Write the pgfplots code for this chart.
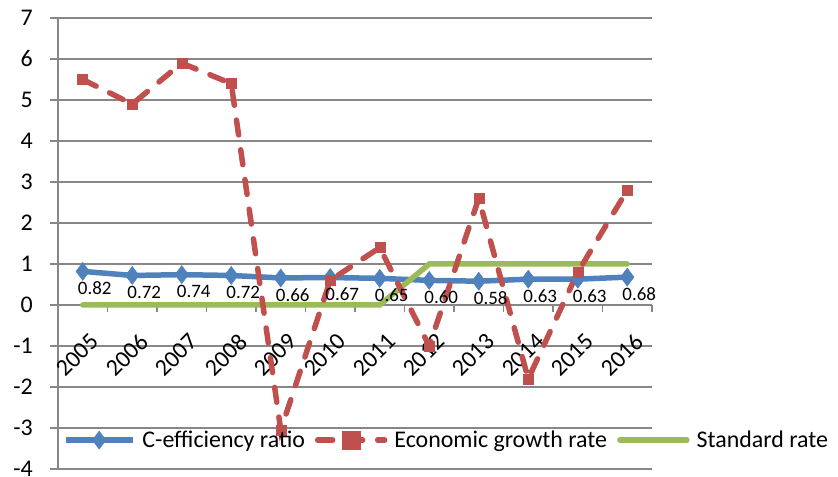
\documentclass[border=0pt]{standalone}
\usepackage{fontspec}
\setmainfont{Carlito}
\usepackage{pgfplots}
\pgfplotsset{compat=1.18}
\usetikzlibrary{calc}
\definecolor{cblue}{HTML}{4F81BD}
\definecolor{cred}{HTML}{C0504D}
\definecolor{cgreen}{HTML}{9BBB59}
\definecolor{cgrid}{HTML}{878787}

\begin{document}
\begin{tikzpicture}
\begin{axis}[
  name=ax,
  scale only axis, width=594bp, height=451bp,
  xmin=-0.5, xmax=11.5, ymin=-4, ymax=7,
  axis y line*=left, axis x line*=middle,
  axis line style={cgrid, line width=2bp, -},
  ytick={-4,...,7},
  xtick={0,...,11},
  xticklabels={2005,2006,2007,2008,2009,2010,2011,2012,2013,2014,2015,2016},
  minor xtick={-0.5,0.5,...,11.5},
  ymajorgrids, grid style={cgrid, line width=1.5bp},
  tick align=outside,
  major tick length=8bp, minor tick length=7bp,
  tick style={cgrid, line width=1.5bp},
  major x tick style={draw=none},
  /pgf/number format/assume math mode=true,
  tick label style={font=\fontsize{24}{28}\selectfont, text=black},
  yticklabel style={inner sep=0pt, xshift=-17bp},
  xticklabel style={rotate=45, anchor=east, inner sep=0pt, xshift=-9bp, yshift=-26bp},
  legend columns=3,
  legend style={draw=none, fill=none, inner sep=0pt,
    at={(axis description cs:0.008,0.064)}, anchor=west,
    font=\fontsize{24}{28}\selectfont,
    nodes={inner sep=0pt, anchor=west},
    /tikz/every odd column/.append style={column sep=7bp},
    /tikz/every even column/.append style={column sep=10bp}},
  legend image code/.code={
    \draw[mark repeat=2, mark phase=2, #1, mark size=9bp] plot coordinates {(0bp,0bp) (33.5bp,0bp) (67bp,0bp)};},
]
\addplot[cblue, line width=5.5bp, mark=diamond*, mark size=9bp,
  mark options={solid, fill=cblue, draw=cblue, line width=0.5bp},
  nodes near coords={\pgfmathprintnumber[fixed, fixed zerofill, precision=2]{\pgfplotspointmeta}},
  every node near coord/.append style={font=\fontsize{19}{22}\selectfont, text=black, anchor=center, xshift=12bp, yshift=-17bp}]
  coordinates {
  (0,0.82) (1,0.72) (2,0.74) (3,0.72) (4,0.66) (5,0.67)
  (6,0.65) (7,0.60) (8,0.58) (9,0.63) (10,0.63) (11,0.68)
};
\addlegendentry{C-efficiency ratio}
\addplot[cgreen, line width=5.5bp, line cap=round, forget plot] coordinates {
  (0,0) (1,0) (2,0) (3,0) (4,0) (5,0)
  (6,0) (7,1) (8,1) (9,1) (10,1) (11,1)
};
\addplot[cred, line width=5.5bp, line cap=round, dash pattern=on 15bp off 15bp,
  mark=square*, mark size=5bp, mark options={solid, fill=cred, draw=cred, line width=0.5bp}]
  coordinates {
  (0,5.5) (1,4.9) (2,5.9) (3,5.4) (4,-3.05) (5,0.6)
  (6,1.4) (7,-1.0) (8,2.6) (9,-1.8) (10,0.8) (11,2.8)
};
\addlegendentry{Economic growth rate}
\addlegendimage{cgreen, line width=5.5bp, line cap=round}
\addlegendentry{Standard rate}
\end{axis}
\path ($(ax.south west)+(-58bp,-7bp)$) rectangle ($(ax.north east)+(186bp,18bp)$);
\end{tikzpicture}
\end{document}
